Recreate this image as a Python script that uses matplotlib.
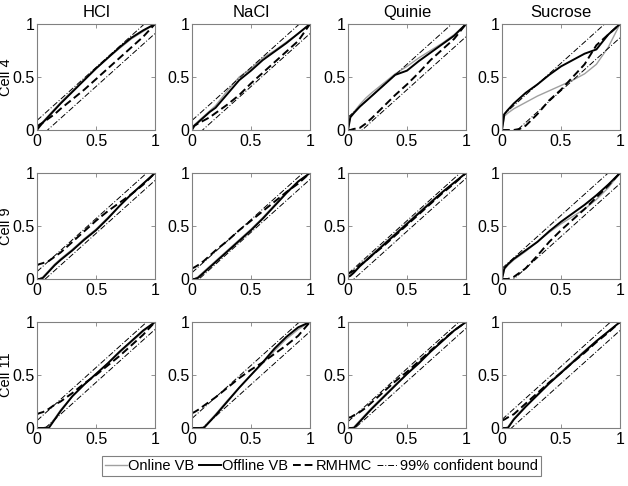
import numpy as np
import matplotlib
matplotlib.use('Agg')
import matplotlib.pyplot as plt
from matplotlib.ticker import FixedLocator, FixedFormatter

plt.rcParams['font.family'] = ['Liberation Sans', 'DejaVu Sans']

tastes = ['HCl', 'NaCl', 'Quinie', 'Sucrose']
cells = ['Cell 4', 'Cell 9', 'Cell 11']

# model quantiles (x) at which the empirical CDF values are read
x_q = [0, 0.02, 0.05, 0.1, 0.15, 0.2, 0.3, 0.4, 0.5, 0.6, 0.7, 0.8, 0.9, 1.0]

# ---- Cell 4 ----
online_c4 = [
    [0.0, 0.04, 0.08, 0.14, 0.2, 0.26, 0.37, 0.48, 0.58, 0.68, 0.77, 0.86, 0.93, 1.0],
    [0.0, 0.05, 0.08, 0.13, 0.18, 0.23, 0.37, 0.5, 0.58, 0.68, 0.75, 0.83, 0.91, 1.0],
    [0.0, 0.13, 0.17, 0.24, 0.3, 0.35, 0.44, 0.53, 0.6, 0.68, 0.75, 0.82, 0.9, 1.0],
    [0.0, 0.13, 0.16, 0.2, 0.23, 0.26, 0.32, 0.37, 0.42, 0.47, 0.53, 0.62, 0.78, 1.0],
]
offline_c4 = [
    [0.0, 0.03, 0.07, 0.13, 0.19, 0.25, 0.36, 0.47, 0.58, 0.68, 0.78, 0.87, 0.94, 1.0],
    [0.0, 0.04, 0.07, 0.12, 0.17, 0.21, 0.34, 0.47, 0.56, 0.66, 0.74, 0.82, 0.91, 1.0],
    [0.0, 0.12, 0.16, 0.22, 0.27, 0.32, 0.42, 0.52, 0.56, 0.65, 0.73, 0.81, 0.89, 1.0],
    [0.0, 0.15, 0.19, 0.25, 0.3, 0.35, 0.43, 0.52, 0.6, 0.66, 0.72, 0.76, 0.9, 1.0],
]
rmhmc_c4 = [
    [0.03, 0.05, 0.07, 0.11, 0.15, 0.2, 0.29, 0.38, 0.48, 0.58, 0.68, 0.78, 0.88, 1.0],
    [0.02, 0.04, 0.06, 0.09, 0.12, 0.16, 0.24, 0.33, 0.44, 0.54, 0.64, 0.74, 0.84, 1.0],
    [0.0, 0.0, 0.01, 0.02, 0.06, 0.11, 0.22, 0.33, 0.43, 0.54, 0.66, 0.76, 0.86, 1.0],
    [0.0, 0.0, 0.0, 0.0, 0.01, 0.04, 0.15, 0.28, 0.38, 0.5, 0.62, 0.8, 0.9, 1.0],
]

# ---- Cell 9 ----
online_c9 = [
    [0.0, 0.0, 0.02, 0.08, 0.14, 0.19, 0.28, 0.38, 0.47, 0.58, 0.69, 0.8, 0.9, 1.0],
    [0.0, 0.0, 0.02, 0.07, 0.12, 0.17, 0.27, 0.37, 0.47, 0.58, 0.7, 0.82, 0.92, 1.0],
    [0.03, 0.04, 0.07, 0.13, 0.18, 0.23, 0.33, 0.43, 0.53, 0.63, 0.73, 0.82, 0.91, 1.0],
    [0.0, 0.09, 0.13, 0.18, 0.22, 0.26, 0.35, 0.44, 0.52, 0.59, 0.66, 0.75, 0.86, 1.0],
]
offline_c9 = [
    [0.0, 0.0, 0.01, 0.07, 0.13, 0.18, 0.27, 0.37, 0.46, 0.57, 0.69, 0.8, 0.9, 1.0],
    [0.0, 0.0, 0.01, 0.06, 0.11, 0.16, 0.26, 0.36, 0.46, 0.57, 0.69, 0.81, 0.92, 1.0],
    [0.02, 0.03, 0.06, 0.12, 0.17, 0.22, 0.32, 0.42, 0.52, 0.62, 0.72, 0.82, 0.91, 1.0],
    [0.0, 0.1, 0.14, 0.19, 0.23, 0.27, 0.35, 0.45, 0.54, 0.62, 0.7, 0.79, 0.89, 1.0],
]
rmhmc_c9 = [
    [0.13, 0.14, 0.15, 0.17, 0.21, 0.25, 0.35, 0.45, 0.55, 0.64, 0.72, 0.8, 0.89, 1.0],
    [0.1, 0.11, 0.13, 0.17, 0.22, 0.27, 0.36, 0.46, 0.55, 0.64, 0.73, 0.82, 0.9, 1.0],
    [0.05, 0.06, 0.08, 0.13, 0.17, 0.22, 0.31, 0.41, 0.51, 0.61, 0.71, 0.81, 0.9, 1.0],
    [0.0, 0.0, 0.0, 0.02, 0.06, 0.1, 0.22, 0.35, 0.46, 0.56, 0.66, 0.77, 0.88, 1.0],
]

# ---- Cell 11 ----
online_c11 = [
    [0.0, 0.0, 0.0, 0.02, 0.09, 0.17, 0.3, 0.41, 0.51, 0.61, 0.71, 0.81, 0.91, 1.0],
    [0.0, 0.0, 0.0, 0.01, 0.07, 0.13, 0.26, 0.38, 0.5, 0.61, 0.73, 0.84, 0.93, 1.0],
    [0.0, 0.0, 0.01, 0.07, 0.13, 0.19, 0.3, 0.41, 0.51, 0.62, 0.72, 0.82, 0.92, 1.0],
    [0.0, 0.0, 0.01, 0.09, 0.15, 0.21, 0.32, 0.43, 0.53, 0.63, 0.73, 0.82, 0.91, 1.0],
]
offline_c11 = [
    [0.0, 0.0, 0.0, 0.0, 0.08, 0.16, 0.3, 0.41, 0.51, 0.61, 0.72, 0.82, 0.92, 1.0],
    [0.0, 0.0, 0.0, 0.0, 0.06, 0.12, 0.25, 0.38, 0.5, 0.62, 0.75, 0.86, 0.95, 1.0],
    [0.0, 0.0, 0.0, 0.06, 0.12, 0.18, 0.29, 0.4, 0.51, 0.61, 0.72, 0.82, 0.92, 1.0],
    [0.0, 0.0, 0.0, 0.08, 0.14, 0.2, 0.31, 0.42, 0.52, 0.62, 0.72, 0.82, 0.91, 1.0],
]
rmhmc_c11 = [
    [0.13, 0.14, 0.15, 0.18, 0.22, 0.25, 0.33, 0.42, 0.5, 0.59, 0.68, 0.78, 0.88, 1.0],
    [0.14, 0.15, 0.17, 0.21, 0.25, 0.29, 0.38, 0.47, 0.55, 0.62, 0.7, 0.78, 0.87, 1.0],
    [0.1, 0.1, 0.12, 0.15, 0.19, 0.24, 0.34, 0.44, 0.53, 0.63, 0.73, 0.83, 0.92, 1.0],
    [0.07, 0.08, 0.1, 0.13, 0.18, 0.23, 0.33, 0.43, 0.52, 0.62, 0.71, 0.81, 0.9, 1.0],
]

# half-width of the 99% confidence band, per cell (rows) and taste (cols)
bound_c4 = [0.09, 0.09, 0.12, 0.13]
bound_c9 = [0.07, 0.06, 0.05, 0.1]
bound_c11 = [0.07, 0.09, 0.06, 0.08]

online = [online_c4, online_c9, online_c11]
offline = [offline_c4, offline_c9, offline_c11]
rmhmc = [rmhmc_c4, rmhmc_c9, rmhmc_c11]
bounds = [bound_c4, bound_c9, bound_c11]

fig = plt.figure(figsize=(6.28, 4.86), dpi=100)
W, H = 628.0, 486.0
col_left = [37, 192, 348, 502]
row_top = [24, 173, 322]
aw, ah = 118, 106
frame = '#808080'
diag = np.array([0.0, 1.0])

for r in range(3):
    for c in range(4):
        ax = fig.add_axes([col_left[c] / W, 1 - (row_top[r] + ah) / H, aw / W, ah / H])
        b = bounds[r][c]
        ax.plot(x_q, online[r][c], color='#a0a0a0', lw=1.0, label='Online VB')
        ax.plot(x_q, offline[r][c], color='black', lw=1.4, label='Offline VB')
        ax.plot(x_q, rmhmc[r][c], color='black', lw=1.4, ls=(0, (4, 2)), label='RMHMC')
        ax.plot(diag, diag + b, color='black', lw=0.7, ls=(0, (6, 2, 1, 2)),
                label='99% confident bound')
        ax.plot(diag, diag - b, color='black', lw=0.7, ls=(0, (6, 2, 1, 2)))
        ax.set_xlim(0, 1)
        ax.set_ylim(0, 1)
        for s in ax.spines.values():
            s.set_color(frame)
            s.set_linewidth(0.8)
        ax.xaxis.set_major_locator(FixedLocator([0, 0.5, 1]))
        ax.yaxis.set_major_locator(FixedLocator([0, 0.5, 1]))
        ax.xaxis.set_major_formatter(FixedFormatter(['0', '0.5', '1']))
        ax.yaxis.set_major_formatter(FixedFormatter(['0', '0.5', '1']))
        ax.tick_params(direction='in', length=3, width=0.6, color=frame,
                       top=True, right=True, labelsize=11.5)
        ax.tick_params(axis='x', pad=3)
        ax.tick_params(axis='y', pad=2)
        if r == 0:
            ax.set_title(tastes[c], fontsize=12, pad=5)
        if c == 0:
            ax.set_ylabel(cells[r], fontsize=10.5)
            ax.yaxis.set_label_coords(-0.2, 0.5)

handles, labels = ax.get_legend_handles_labels()
leg = fig.legend(handles, labels, loc='center', bbox_to_anchor=(0.512, 0.041),
                 ncol=4, fontsize=10.5, handlelength=1.5, handletextpad=0.1,
                 columnspacing=0.3, borderpad=0.2, fancybox=False, framealpha=1)
leg.get_frame().set_edgecolor(frame)
leg.get_frame().set_linewidth(0.8)

fig.savefig('out.png', dpi=100)
